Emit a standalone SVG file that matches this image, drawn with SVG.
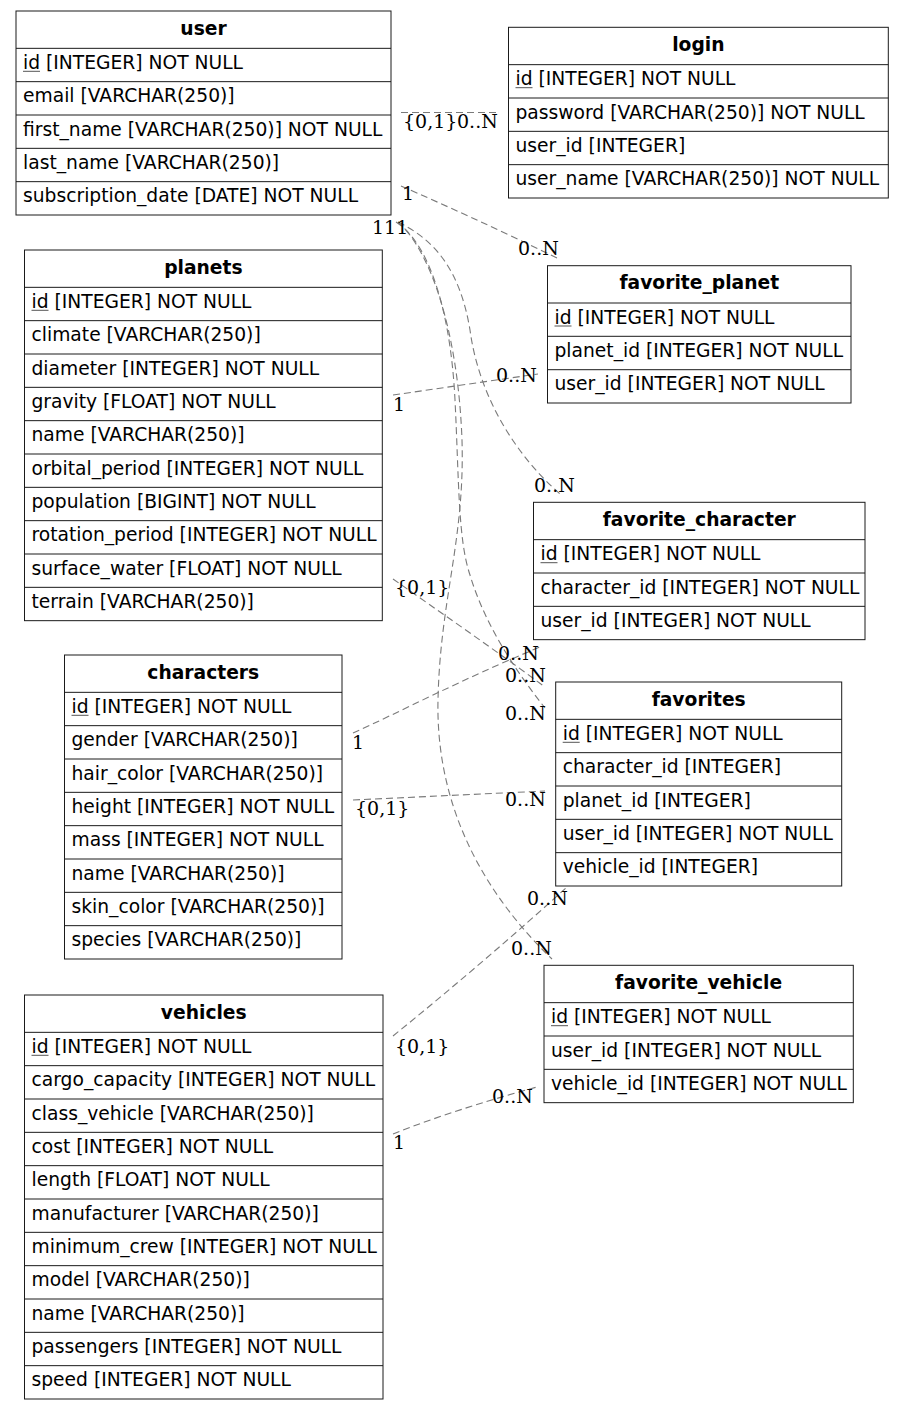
<svg xmlns="http://www.w3.org/2000/svg" width="904" height="1409" viewBox="0 0 904 1409">
  <style>
    .box { fill: #ffffff; stroke: #1a1a1a; stroke-width: 1; }
    .sep { fill: none; stroke: #1a1a1a; stroke-width: 1; }
    .ul { fill: none; stroke: #555555; stroke-width: 1; }
    .t { font-family: "DejaVu Sans", "Liberation Sans", sans-serif; font-size: 18.7px; fill: #000000; }
    .h { font-weight: bold; text-anchor: middle; }
    .edge { fill: none; stroke: #7a7a7a; stroke-width: 1.1; stroke-dasharray: 7,4; }
    .lbl { font-family: "DejaVu Serif", "Liberation Serif", serif; font-size: 19px; fill: #000000; }
  </style>
  <rect width="904" height="1409" fill="#ffffff"/>

  <!-- relationship connectors -->
  <g id="connectors">
    <path class="edge" d="M401,112.5 L499,112.5"/>
    <path class="edge" d="M401,186 C440,203 500,230 557,258"/>
    <path class="edge" d="M398,222 C435,240 460,270 470,330 C478,390 510,450 560,494"/>
    <path class="edge" d="M396,222 C425,240 450,300 455,400 C459,480 458,540 470,575 C485,625 515,670 545,708"/>
    <path class="edge" d="M398,222 C430,250 458,330 462,440 C465,540 440,600 438,700 C436,790 470,880 552,959"/>
    <path class="edge" d="M393,395 L538,374"/>
    <path class="edge" d="M393,579 C440,612 495,650 545,687"/>
    <path class="edge" d="M353,733 C400,712 460,680 540,647"/>
    <path class="edge" d="M353,800 L545,791"/>
    <path class="edge" d="M393,1036 C450,990 520,930 567,887"/>
    <path class="edge" d="M393,1134 C440,1115 500,1097 537,1087"/>

    <text class="lbl" x="403" y="128">{0,1}</text>
    <text class="lbl" x="457" y="128">0..N</text>
    <text class="lbl" x="402" y="200">1</text>
    <text class="lbl" x="518" y="255">0..N</text>
    <text class="lbl" x="372" y="234">111</text>
    <text class="lbl" x="496" y="382">0..N</text>
    <text class="lbl" x="393" y="411">1</text>
    <text class="lbl" x="534" y="492">0..N</text>
    <text class="lbl" x="395" y="594">{0,1}</text>
    <text class="lbl" x="498" y="660">0..N</text>
    <text class="lbl" x="505" y="682">0..N</text>
    <text class="lbl" x="505" y="720">0..N</text>
    <text class="lbl" x="352" y="749">1</text>
    <text class="lbl" x="505" y="806">0..N</text>
    <text class="lbl" x="355" y="815">{0,1}</text>
    <text class="lbl" x="527" y="905">0..N</text>
    <text class="lbl" x="511" y="955">0..N</text>
    <text class="lbl" x="395" y="1053">{0,1}</text>
    <text class="lbl" x="492" y="1103">0..N</text>
    <text class="lbl" x="393" y="1149">1</text>
  </g>

  <g id="user">
    <rect class="box" x="16" y="11" width="375" height="204"/>
    <path class="sep" d="M16,48.33 H391 M16,81.67 H391 M16,115 H391 M16,148.33 H391 M16,181.67 H391"/>
    <text class="t h" x="203.5" y="34.5">user</text>
    <text class="t" x="23" y="68.8">id [INTEGER] NOT NULL</text>
    <path class="ul" d="M23,71.3 h17"/>
    <text class="t" x="23" y="102.2">email [VARCHAR(250)]</text>
    <text class="t" x="23" y="135.5">first_name [VARCHAR(250)] NOT NULL</text>
    <text class="t" x="23" y="168.8">last_name [VARCHAR(250)]</text>
    <text class="t" x="23" y="202.2">subscription_date [DATE] NOT NULL</text>
  </g>

  <g id="login">
    <rect class="box" x="508.5" y="27.3" width="379.8" height="170.7"/>
    <path class="sep" d="M508.5,64.67 H888.3 M508.5,98 H888.3 M508.5,131.33 H888.3 M508.5,164.67 H888.3"/>
    <text class="t h" x="698.4" y="50.8">login</text>
    <text class="t" x="515.5" y="85.2">id [INTEGER] NOT NULL</text>
    <path class="ul" d="M515.5,87.7 h17"/>
    <text class="t" x="515.5" y="118.5">password [VARCHAR(250)] NOT NULL</text>
    <text class="t" x="515.5" y="151.8">user_id [INTEGER]</text>
    <text class="t" x="515.5" y="185.2">user_name [VARCHAR(250)] NOT NULL</text>
  </g>

  <g id="favorite_planet">
    <rect class="box" x="547.5" y="265.7" width="303.5" height="137.3"/>
    <path class="sep" d="M547.5,303 H851 M547.5,336.3 H851 M547.5,369.7 H851"/>
    <text class="t h" x="699.25" y="289.2">favorite_planet</text>
    <text class="t" x="554.5" y="323.5">id [INTEGER] NOT NULL</text>
    <path class="ul" d="M554.5,326 h17"/>
    <text class="t" x="554.5" y="356.8">planet_id [INTEGER] NOT NULL</text>
    <text class="t" x="554.5" y="390.2">user_id [INTEGER] NOT NULL</text>
  </g>

  <g id="planets">
    <rect class="box" x="24.5" y="250" width="357.8" height="370.67"/>
    <path class="sep" d="M24.5,287.33 H382.3 M24.5,320.67 H382.3 M24.5,354 H382.3 M24.5,387.33 H382.3 M24.5,420.67 H382.3 M24.5,454 H382.3 M24.5,487.33 H382.3 M24.5,520.67 H382.3 M24.5,554 H382.3 M24.5,587.33 H382.3"/>
    <text class="t h" x="203.4" y="273.5">planets</text>
    <text class="t" x="31.5" y="307.8">id [INTEGER] NOT NULL</text>
    <path class="ul" d="M31.5,310.3 h17"/>
    <text class="t" x="31.5" y="341.2">climate [VARCHAR(250)]</text>
    <text class="t" x="31.5" y="374.5">diameter [INTEGER] NOT NULL</text>
    <text class="t" x="31.5" y="407.8">gravity [FLOAT] NOT NULL</text>
    <text class="t" x="31.5" y="441.2">name [VARCHAR(250)]</text>
    <text class="t" x="31.5" y="474.5">orbital_period [INTEGER] NOT NULL</text>
    <text class="t" x="31.5" y="507.8">population [BIGINT] NOT NULL</text>
    <text class="t" x="31.5" y="541.2">rotation_period [INTEGER] NOT NULL</text>
    <text class="t" x="31.5" y="574.5">surface_water [FLOAT] NOT NULL</text>
    <text class="t" x="31.5" y="607.8">terrain [VARCHAR(250)]</text>
  </g>

  <g id="favorite_character">
    <rect class="box" x="533.5" y="502.3" width="331.5" height="137.37"/>
    <path class="sep" d="M533.5,539.67 H865 M533.5,573 H865 M533.5,606.33 H865"/>
    <text class="t h" x="699.25" y="525.8">favorite_character</text>
    <text class="t" x="540.5" y="560.2">id [INTEGER] NOT NULL</text>
    <path class="ul" d="M540.5,562.7 h17"/>
    <text class="t" x="540.5" y="593.5">character_id [INTEGER] NOT NULL</text>
    <text class="t" x="540.5" y="626.8">user_id [INTEGER] NOT NULL</text>
  </g>

  <g id="characters">
    <rect class="box" x="64.5" y="655" width="277.5" height="304"/>
    <path class="sep" d="M64.5,692.33 H342 M64.5,725.67 H342 M64.5,759 H342 M64.5,792.33 H342 M64.5,825.67 H342 M64.5,859 H342 M64.5,892.33 H342 M64.5,925.67 H342"/>
    <text class="t h" x="203.25" y="678.5">characters</text>
    <text class="t" x="71.5" y="712.8">id [INTEGER] NOT NULL</text>
    <path class="ul" d="M71.5,715.3 h17"/>
    <text class="t" x="71.5" y="746.2">gender [VARCHAR(250)]</text>
    <text class="t" x="71.5" y="779.5">hair_color [VARCHAR(250)]</text>
    <text class="t" x="71.5" y="812.8">height [INTEGER] NOT NULL</text>
    <text class="t" x="71.5" y="846.2">mass [INTEGER] NOT NULL</text>
    <text class="t" x="71.5" y="879.5">name [VARCHAR(250)]</text>
    <text class="t" x="71.5" y="912.8">skin_color [VARCHAR(250)]</text>
    <text class="t" x="71.5" y="946.2">species [VARCHAR(250)]</text>
  </g>

  <g id="favorites">
    <rect class="box" x="555.7" y="682" width="286" height="204"/>
    <path class="sep" d="M555.7,719.33 H841.7 M555.7,752.67 H841.7 M555.7,786 H841.7 M555.7,819.33 H841.7 M555.7,852.67 H841.7"/>
    <text class="t h" x="698.7" y="705.5">favorites</text>
    <text class="t" x="562.7" y="739.8">id [INTEGER] NOT NULL</text>
    <path class="ul" d="M562.7,742.3 h17"/>
    <text class="t" x="562.7" y="773.2">character_id [INTEGER]</text>
    <text class="t" x="562.7" y="806.5">planet_id [INTEGER]</text>
    <text class="t" x="562.7" y="839.8">user_id [INTEGER] NOT NULL</text>
    <text class="t" x="562.7" y="873.2">vehicle_id [INTEGER]</text>
  </g>

  <g id="favorite_vehicle">
    <rect class="box" x="544" y="965.3" width="309.3" height="137.37"/>
    <path class="sep" d="M544,1002.67 H853.3 M544,1036 H853.3 M544,1069.33 H853.3"/>
    <text class="t h" x="698.65" y="988.8">favorite_vehicle</text>
    <text class="t" x="551" y="1023.2">id [INTEGER] NOT NULL</text>
    <path class="ul" d="M551,1025.7 h17"/>
    <text class="t" x="551" y="1056.5">user_id [INTEGER] NOT NULL</text>
    <text class="t" x="551" y="1089.8">vehicle_id [INTEGER] NOT NULL</text>
  </g>

  <g id="vehicles">
    <rect class="box" x="24.5" y="995" width="358.5" height="404"/>
    <path class="sep" d="M24.5,1032.33 H383 M24.5,1065.67 H383 M24.5,1099 H383 M24.5,1132.33 H383 M24.5,1165.67 H383 M24.5,1199 H383 M24.5,1232.33 H383 M24.5,1265.67 H383 M24.5,1299 H383 M24.5,1332.33 H383 M24.5,1365.67 H383"/>
    <text class="t h" x="203.75" y="1018.5">vehicles</text>
    <text class="t" x="31.5" y="1052.8">id [INTEGER] NOT NULL</text>
    <path class="ul" d="M31.5,1055.3 h17"/>
    <text class="t" x="31.5" y="1086.2">cargo_capacity [INTEGER] NOT NULL</text>
    <text class="t" x="31.5" y="1119.5">class_vehicle [VARCHAR(250)]</text>
    <text class="t" x="31.5" y="1152.8">cost [INTEGER] NOT NULL</text>
    <text class="t" x="31.5" y="1186.2">length [FLOAT] NOT NULL</text>
    <text class="t" x="31.5" y="1219.5">manufacturer [VARCHAR(250)]</text>
    <text class="t" x="31.5" y="1252.8">minimum_crew [INTEGER] NOT NULL</text>
    <text class="t" x="31.5" y="1286.2">model [VARCHAR(250)]</text>
    <text class="t" x="31.5" y="1319.5">name [VARCHAR(250)]</text>
    <text class="t" x="31.5" y="1352.8">passengers [INTEGER] NOT NULL</text>
    <text class="t" x="31.5" y="1386.2">speed [INTEGER] NOT NULL</text>
  </g>
</svg>
